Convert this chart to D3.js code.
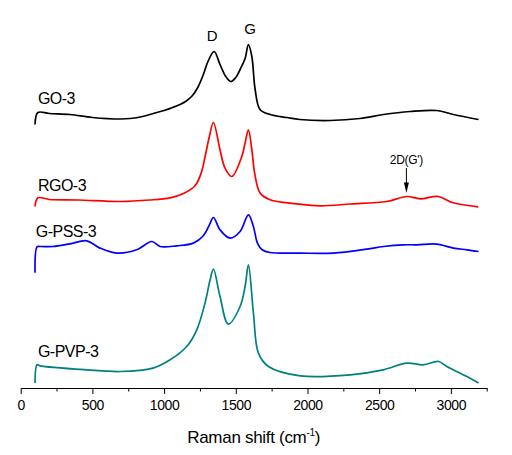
<!DOCTYPE html>
<html>
<head>
<meta charset="utf-8">
<script src="https://cdn.jsdelivr.net/npm/d3@7"></script>
<style>
  html, body { margin: 0; padding: 0; background: #fff; }
  svg { display: block; }
  text { font-family: "Liberation Sans", Arial, sans-serif; fill: #000; }
</style>
</head>
<body>
<svg id="chart" width="512" height="455"></svg>
<script>
// ---- data (Raman shift in cm-1, stacked intensity in a.u.) ----
const seriesNames = ["GO-3", "RGO-3", "G-PSS-3", "G-PVP-3"];
const seriesColors = ["#000000", "#ff0000", "#0000ff", "#008080"];

const go3 = [[100,264],[120,276],[200,275],[344,274],[500,271],[700,269.5],[763,270],[850,272],[925,275],[1000,278],[1060,281],[1111,284],[1155,287.5],[1195,292.5],[1235,301],[1274,314],[1309,328],[1349,337],[1390,324],[1430,312],[1465,307],[1500,311],[1530,319],[1565,330],[1588,344],[1612,332],[1635,299],[1669,279],[1739,274],[1856,271],[1946,269],[2158,268],[2367,270],[2530,274],[2716,277],[2902,278],[3018,274],[3193,269]];

const rgo3 = [[100,182],[120,190.7],[200,189],[400,188.5],[693,187],[900,188.5],[1042,190.7],[1132,194.7],[1216,202.7],[1260,216],[1286,232],[1316,252],[1344,266],[1390,238.7],[1425,220.4],[1472,212],[1542,232],[1565,245.4],[1588,258.7],[1612,238.7],[1628,218.7],[1651,202],[1670,195.4],[1739,188.7],[1926,184.7],[2088,182.7],[2300,184.5],[2554,187],[2693,192],[2786,189.7],[2912,192],[3016,185.7],[3191,181.7]];

const gpss3 = [[100,115.7],[114,141.7],[135,142],[225,142],[344,144.7],[460,147.7],[553,140.4],[670,135.4],[809,138.7],[914,147],[972,142],[1088,142.7],[1204,145.4],[1274,152.7],[1316,163.7],[1344,171],[1390,158.7],[1460,150.4],[1530,157],[1588,173.7],[1623,162],[1651,145.4],[1684,138.7],[1739,136],[1949,135.4],[2181,135.4],[2414,139.4],[2530,142],[2669,143.7],[2763,143.7],[2902,144.4],[3018,140.4],[3112,138.7],[3193,137]];

const gpvp3 = [[100,5.4],[114,23.7],[135,22.7],[460,18.7],[693,17],[923,20.4],[1042,28.7],[1158,42],[1228,58.7],[1286,85.7],[1321,108.7],[1344,119.4],[1390,92],[1448,64.4],[1530,82],[1565,102],[1588,123.7],[1623,75.7],[1658,35.4],[1728,22],[1949,12.7],[2298,13.7],[2528,18.7],[2693,25.4],[2807,23.7],[2914,27],[2972,22],[3112,12],[3193,5.4]];

const seriesData = [go3, rgo3, gpss3, gpvp3];

const majorTicks = [0, 500, 1000, 1500, 2000, 2500, 3000];
const minorTicks = [250, 750, 1250, 1750, 2250, 2750, 3250];
const xDomain = [0, 3250];
const yDomain = [0, 350];
const peakLabels = [["D", 1335], ["G", 1600]];
const bandLabel = ["2D(G')", 2690];

// ---- drawing ----
const svg = d3.select("#chart");
const x = d3.scaleLinear().domain(xDomain).range([20.7, 486.7]);
const y = d3.scaleLinear().domain(yDomain).range([388.5, 38.5]);

const line = d3.line()
  .x(d => x(d[0]))
  .y(d => y(d[1]))
  .curve(d3.curveCatmullRom.alpha(0.5));

svg.append("g").selectAll("path")
  .data(seriesData)
  .join("path")
  .attr("d", d => line(d))
  .attr("fill", "none")
  .attr("stroke", (d, i) => seriesColors[i])
  .attr("stroke-width", 1.7)
  .attr("stroke-linejoin", "round");

// series labels
const labelPos = [[120, 284.7], [120, 198], [105, 151.4], [120, 32]];
svg.append("g").selectAll("text")
  .data(seriesNames)
  .join("text")
  .attr("x", (d, i) => x(labelPos[i][0]))
  .attr("y", (d, i) => y(labelPos[i][1]))
  .attr("font-size", 16)
  .attr("letter-spacing", "-0.5px")
  .text(d => d);

// peak labels
svg.append("g").selectAll("text")
  .data(peakLabels)
  .join("text")
  .attr("x", d => x(d[1]))
  .attr("y", (d, i) => i === 0 ? y(348) : y(354.7))
  .attr("text-anchor", "middle")
  .attr("font-size", 15)
  .text(d => d[0]);

// 2D(G') annotation with arrow
const bx = x(bandLabel[1]);
svg.append("text")
  .attr("x", bx)
  .attr("y", y(224.5))
  .attr("text-anchor", "middle")
  .attr("font-size", 12)
  .attr("letter-spacing", "-0.3px")
  .text(bandLabel[0]);
svg.append("line")
  .attr("x1", bx).attr("x2", bx)
  .attr("y1", y(220.5)).attr("y2", y(203))
  .attr("stroke", "#000").attr("stroke-width", 1);
svg.append("path")
  .attr("d", `M${bx - 2.5},${y(206)} L${bx + 2.5},${y(206)} L${bx},${y(195.5)} Z`)
  .attr("fill", "#000");

// x axis
const gx = svg.append("g").attr("transform", "translate(0,388)");
gx.call(d3.axisBottom(x).tickValues(majorTicks).tickFormat(d3.format("d"))
  .tickSize(6).tickSizeOuter(0).tickPadding(6));
gx.selectAll("text").attr("font-size", 14).attr("letter-spacing", "-0.4px")
  .style("font-family", "'Liberation Sans', Arial, sans-serif").attr("fill", "#000");
gx.selectAll("line, path").attr("stroke", "#000");

const gm = svg.append("g").attr("transform", "translate(0,388)");
gm.call(d3.axisBottom(x).tickValues(minorTicks).tickSize(3.5).tickSizeOuter(0).tickFormat(""));
gm.select(".domain").remove();
gm.selectAll("line").attr("stroke", "#000");

// axis title
const title = svg.append("text")
  .attr("x", x(1625))
  .attr("y", 442.7)
  .attr("text-anchor", "middle")
  .attr("font-size", 17)
  .attr("letter-spacing", "-0.3px");
title.append("tspan").text("Raman shift (cm");
title.append("tspan").attr("font-size", 10).attr("dy", -7).text("-1");
title.append("tspan").attr("dy", 7).text(")");
</script>
</body>
</html>
